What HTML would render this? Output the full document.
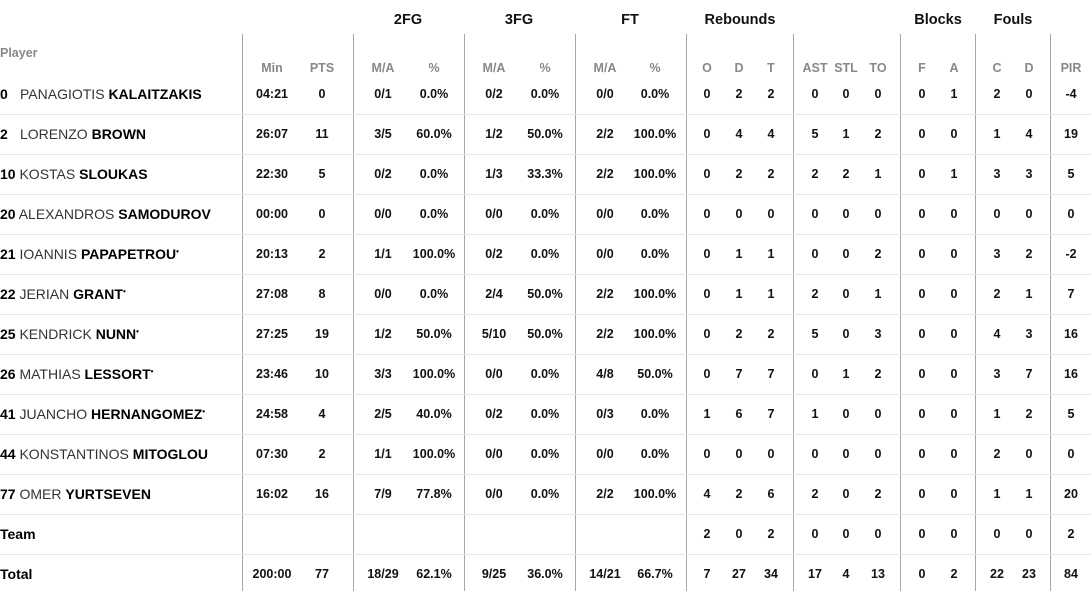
<!DOCTYPE html>
<html><head><meta charset="utf-8"><style>
*{margin:0;padding:0;box-sizing:border-box}
body{width:1091px;height:591px;background:#fff;font-family:"Liberation Sans",sans-serif;color:#111;position:relative;overflow:hidden}
.v{position:absolute;top:34px;bottom:0;width:1px;background:#a8a8a8}
.h{position:absolute;left:0;width:1091px;height:1px;background:#e6e6e6}
.g{position:absolute;top:12px;font-weight:bold;font-size:14.5px;transform:translateX(-50%)}
.row{position:absolute;left:0;width:1091px;height:20px}
.row span{position:absolute;width:70px;margin-left:-35px;text-align:center;font-weight:bold;font-size:12.5px;top:3px}
.hd span{color:#888;font-weight:bold;font-size:12.5px}
.row .n{left:0;margin-left:0;width:240px;text-align:left;font-weight:normal;font-size:14px;top:2px;color:#333}
.n b{color:#000}
.n i{font-style:normal;display:inline-block;width:20px}
.n sup{font-size:8px;vertical-align:5px}
.a{left:272px}.b{left:322px}.c{left:383px}.d{left:434px}.e{left:494px}.f{left:545px}.g1{left:605px}.h1{left:655px}
.i{left:707px}.j{left:739px}.k{left:771px}.l{left:815px}.m{left:846px}.o{left:878px}.p{left:922px}.q{left:954px}.r{left:997px}.s{left:1029px}.t{left:1071px}
</style></head><body>
<div class="g" style="left:408px">2FG</div>
<div class="g" style="left:519px">3FG</div>
<div class="g" style="left:630px">FT</div>
<div class="g" style="left:740px">Rebounds</div>
<div class="g" style="left:938px">Blocks</div>
<div class="g" style="left:1013px">Fouls</div>
<div style="position:absolute;left:0;top:46px;font-size:12.5px;color:#888;font-weight:bold">Player</div>
<div class="v" style="left:242px"></div><div class="v" style="left:353px"></div><div class="v" style="left:464px"></div><div class="v" style="left:575px"></div><div class="v" style="left:686px"></div><div class="v" style="left:793px"></div><div class="v" style="left:900px"></div><div class="v" style="left:975px"></div><div class="v" style="left:1050px"></div>
<div class="h" style="top:114px"></div><div class="h" style="top:154px"></div><div class="h" style="top:194px"></div><div class="h" style="top:234px"></div><div class="h" style="top:274px"></div><div class="h" style="top:314px"></div><div class="h" style="top:354px"></div><div class="h" style="top:394px"></div><div class="h" style="top:434px"></div><div class="h" style="top:474px"></div><div class="h" style="top:514px"></div><div class="h" style="top:554px"></div>
<div class="row hd" style="top:58px"><span class="a">Min</span><span class="b">PTS</span><span class="c">M/A</span><span class="d">%</span><span class="e">M/A</span><span class="f">%</span><span class="g1">M/A</span><span class="h1">%</span><span class="i">O</span><span class="j">D</span><span class="k">T</span><span class="l">AST</span><span class="m">STL</span><span class="o">TO</span><span class="p">F</span><span class="q">A</span><span class="r">C</span><span class="s">D</span><span class="t">PIR</span></div>
<div class="row" style="top:84px"><span class="n"><b><i>0</i></b>PANAGIOTIS <b>KALAITZAKIS</b></span><span class="a">04:21</span><span class="b">0</span><span class="c">0/1</span><span class="d">0.0%</span><span class="e">0/2</span><span class="f">0.0%</span><span class="g1">0/0</span><span class="h1">0.0%</span><span class="i">0</span><span class="j">2</span><span class="k">2</span><span class="l">0</span><span class="m">0</span><span class="o">0</span><span class="p">0</span><span class="q">1</span><span class="r">2</span><span class="s">0</span><span class="t">-4</span></div>
<div class="row" style="top:124px"><span class="n"><b><i>2</i></b>LORENZO <b>BROWN</b></span><span class="a">26:07</span><span class="b">11</span><span class="c">3/5</span><span class="d">60.0%</span><span class="e">1/2</span><span class="f">50.0%</span><span class="g1">2/2</span><span class="h1">100.0%</span><span class="i">0</span><span class="j">4</span><span class="k">4</span><span class="l">5</span><span class="m">1</span><span class="o">2</span><span class="p">0</span><span class="q">0</span><span class="r">1</span><span class="s">4</span><span class="t">19</span></div>
<div class="row" style="top:164px"><span class="n"><b>10</b> KOSTAS <b>SLOUKAS</b></span><span class="a">22:30</span><span class="b">5</span><span class="c">0/2</span><span class="d">0.0%</span><span class="e">1/3</span><span class="f">33.3%</span><span class="g1">2/2</span><span class="h1">100.0%</span><span class="i">0</span><span class="j">2</span><span class="k">2</span><span class="l">2</span><span class="m">2</span><span class="o">1</span><span class="p">0</span><span class="q">1</span><span class="r">3</span><span class="s">3</span><span class="t">5</span></div>
<div class="row" style="top:204px"><span class="n"><b>20</b> ALEXANDROS <b>SAMODUROV</b></span><span class="a">00:00</span><span class="b">0</span><span class="c">0/0</span><span class="d">0.0%</span><span class="e">0/0</span><span class="f">0.0%</span><span class="g1">0/0</span><span class="h1">0.0%</span><span class="i">0</span><span class="j">0</span><span class="k">0</span><span class="l">0</span><span class="m">0</span><span class="o">0</span><span class="p">0</span><span class="q">0</span><span class="r">0</span><span class="s">0</span><span class="t">0</span></div>
<div class="row" style="top:244px"><span class="n"><b>21</b> IOANNIS <b>PAPAPETROU<sup>•</sup></b></span><span class="a">20:13</span><span class="b">2</span><span class="c">1/1</span><span class="d">100.0%</span><span class="e">0/2</span><span class="f">0.0%</span><span class="g1">0/0</span><span class="h1">0.0%</span><span class="i">0</span><span class="j">1</span><span class="k">1</span><span class="l">0</span><span class="m">0</span><span class="o">2</span><span class="p">0</span><span class="q">0</span><span class="r">3</span><span class="s">2</span><span class="t">-2</span></div>
<div class="row" style="top:284px"><span class="n"><b>22</b> JERIAN <b>GRANT<sup>•</sup></b></span><span class="a">27:08</span><span class="b">8</span><span class="c">0/0</span><span class="d">0.0%</span><span class="e">2/4</span><span class="f">50.0%</span><span class="g1">2/2</span><span class="h1">100.0%</span><span class="i">0</span><span class="j">1</span><span class="k">1</span><span class="l">2</span><span class="m">0</span><span class="o">1</span><span class="p">0</span><span class="q">0</span><span class="r">2</span><span class="s">1</span><span class="t">7</span></div>
<div class="row" style="top:324px"><span class="n"><b>25</b> KENDRICK <b>NUNN<sup>•</sup></b></span><span class="a">27:25</span><span class="b">19</span><span class="c">1/2</span><span class="d">50.0%</span><span class="e">5/10</span><span class="f">50.0%</span><span class="g1">2/2</span><span class="h1">100.0%</span><span class="i">0</span><span class="j">2</span><span class="k">2</span><span class="l">5</span><span class="m">0</span><span class="o">3</span><span class="p">0</span><span class="q">0</span><span class="r">4</span><span class="s">3</span><span class="t">16</span></div>
<div class="row" style="top:364px"><span class="n"><b>26</b> MATHIAS <b>LESSORT<sup>•</sup></b></span><span class="a">23:46</span><span class="b">10</span><span class="c">3/3</span><span class="d">100.0%</span><span class="e">0/0</span><span class="f">0.0%</span><span class="g1">4/8</span><span class="h1">50.0%</span><span class="i">0</span><span class="j">7</span><span class="k">7</span><span class="l">0</span><span class="m">1</span><span class="o">2</span><span class="p">0</span><span class="q">0</span><span class="r">3</span><span class="s">7</span><span class="t">16</span></div>
<div class="row" style="top:404px"><span class="n"><b>41</b> JUANCHO <b>HERNANGOMEZ<sup>•</sup></b></span><span class="a">24:58</span><span class="b">4</span><span class="c">2/5</span><span class="d">40.0%</span><span class="e">0/2</span><span class="f">0.0%</span><span class="g1">0/3</span><span class="h1">0.0%</span><span class="i">1</span><span class="j">6</span><span class="k">7</span><span class="l">1</span><span class="m">0</span><span class="o">0</span><span class="p">0</span><span class="q">0</span><span class="r">1</span><span class="s">2</span><span class="t">5</span></div>
<div class="row" style="top:444px"><span class="n"><b>44</b> KONSTANTINOS <b>MITOGLOU</b></span><span class="a">07:30</span><span class="b">2</span><span class="c">1/1</span><span class="d">100.0%</span><span class="e">0/0</span><span class="f">0.0%</span><span class="g1">0/0</span><span class="h1">0.0%</span><span class="i">0</span><span class="j">0</span><span class="k">0</span><span class="l">0</span><span class="m">0</span><span class="o">0</span><span class="p">0</span><span class="q">0</span><span class="r">2</span><span class="s">0</span><span class="t">0</span></div>
<div class="row" style="top:484px"><span class="n"><b>77</b> OMER <b>YURTSEVEN</b></span><span class="a">16:02</span><span class="b">16</span><span class="c">7/9</span><span class="d">77.8%</span><span class="e">0/0</span><span class="f">0.0%</span><span class="g1">2/2</span><span class="h1">100.0%</span><span class="i">4</span><span class="j">2</span><span class="k">6</span><span class="l">2</span><span class="m">0</span><span class="o">2</span><span class="p">0</span><span class="q">0</span><span class="r">1</span><span class="s">1</span><span class="t">20</span></div>
<div class="row" style="top:524px"><span class="n"><b>Team</b></span><span class="i">2</span><span class="j">0</span><span class="k">2</span><span class="l">0</span><span class="m">0</span><span class="o">0</span><span class="p">0</span><span class="q">0</span><span class="r">0</span><span class="s">0</span><span class="t">2</span></div>
<div class="row" style="top:564px"><span class="n"><b>Total</b></span><span class="a">200:00</span><span class="b">77</span><span class="c">18/29</span><span class="d">62.1%</span><span class="e">9/25</span><span class="f">36.0%</span><span class="g1">14/21</span><span class="h1">66.7%</span><span class="i">7</span><span class="j">27</span><span class="k">34</span><span class="l">17</span><span class="m">4</span><span class="o">13</span><span class="p">0</span><span class="q">2</span><span class="r">22</span><span class="s">23</span><span class="t">84</span></div>
</body></html>
